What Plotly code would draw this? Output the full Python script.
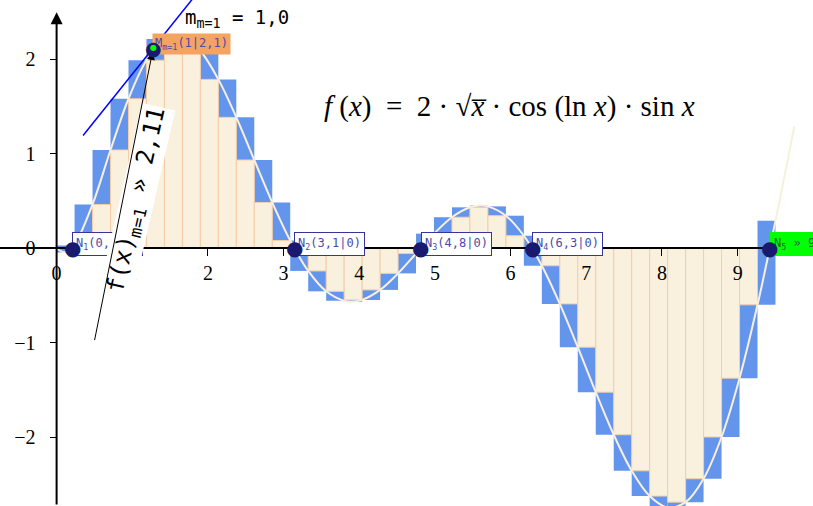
import plotly.graph_objects as go

# f(x) = 2*sqrt(x)*cos(ln x)*sin x
curve_x = [0, 0.1, 0.2079, 0.2375, 0.475, 0.7125, 0.95, 1.1875, 1.425, 1.575,
           1.6625, 1.9, 2.1375, 2.375, 2.6125, 2.85, 3.0875, 3.325, 3.5625, 3.8,
           3.9, 4.0375, 4.275, 4.5125, 4.75, 4.9875, 5.225, 5.4625, 5.6, 5.7,
           5.9375, 6.175, 6.4125, 6.65, 6.8875, 7.125, 7.3625, 7.6, 7.8375, 8.075,
           8.3125, 8.55, 8.7875, 9.025, 9.2625, 9.5, 9.75]
curve_y = [0, -0.042, 0, 0.030, 0.464, 1.041, 1.584, 1.992, 2.216, 2.255,
           2.243, 2.090, 1.789, 1.387, 0.935, 0.485, 0.082, -0.240, -0.456, -0.557,
           -0.566, -0.547, -0.441, -0.266, -0.055, 0.155, 0.329, 0.434, 0.452, 0.444,
           0.345, 0.133, -0.185, -0.589, -1.048, -1.524, -1.975, -2.357, -2.625, -2.745,
           -2.689, -2.441, -1.999, -1.376, -0.599, 0.291, 1.295]

# 40 strips on [0, 9.5]
strip_left = [0, 0.2375, 0.475, 0.7125, 0.95, 1.1875, 1.425, 1.6625, 1.9, 2.1375,
              2.375, 2.6125, 2.85, 3.0875, 3.325, 3.5625, 3.8, 4.0375, 4.275, 4.5125,
              4.75, 4.9875, 5.225, 5.4625, 5.7, 5.9375, 6.175, 6.4125, 6.65, 6.8875,
              7.125, 7.3625, 7.6, 7.8375, 8.075, 8.3125, 8.55, 8.7875, 9.025, 9.2625]
strip_width = 0.2375
upper_sum = [0.030, 0.464, 1.041, 1.584, 1.992, 2.216, 2.256, 2.243, 2.090, 1.789,
             1.387, 0.935, 0.485, 0.082, -0.240, -0.456, -0.547, -0.441, -0.266, -0.055,
             0.155, 0.329, 0.434, 0.453, 0.444, 0.345, 0.133, -0.185, -0.589, -1.048,
             -1.524, -1.975, -2.357, -2.625, -2.689, -2.441, -1.999, -1.376, -0.599, 0.291]
lower_sum = [-0.044, 0.030, 0.464, 1.041, 1.584, 1.992, 2.216, 2.090, 1.789, 1.387,
             0.935, 0.485, 0.082, -0.240, -0.456, -0.557, -0.566, -0.547, -0.441, -0.266,
             -0.055, 0.155, 0.329, 0.434, 0.345, 0.133, -0.185, -0.589, -1.048, -1.524,
             -1.975, -2.357, -2.625, -2.745, -2.749, -2.689, -2.441, -1.999, -1.376, -0.599]

# roots
zeros_x = [0.208, 3.142, 4.811, 6.283, 9.425]
zeros_label = ["N<sub>1</sub>(0,2|0)", "N<sub>2</sub>(3,1|0)", "N<sub>3</sub>(4,8|0)",
               "N<sub>4</sub>(6,3|0)", "N<sub>5</sub> » 9,42|0)"]

# point with slope 1, its tangent and the pointer
m_x, m_y = 1.278, 2.123
tangent_x = [0.35, 1.95]
tangent_y = [1.195, 2.795]
pointer_x, pointer_y = 0.498, -0.989

x_ticks = [0, 1, 2, 3, 4, 5, 6, 7, 8, 9]
y_ticks = [-2, -1, 0, 1, 2]

BLUE = '#6495ED'
BEIGE = '#FAF0DE'
NAVY = '#191970'
LABEL_TXT = '#4A4AA8'
MONO = 'DejaVu Sans Mono'
SERIF = 'Liberation Serif'

# strips: blue covers the full range of f (and 0), beige the part under both
blue_base = [min(lo, 0) for lo in lower_sum]
blue_height = [max(up, 0) - b for up, b in zip(upper_sum, blue_base)]
beige_height = [lo if lo > 0 else (up if up < 0 else 0)
                for up, lo in zip(upper_sum, lower_sum)]

fig = go.Figure()

fig.add_trace(go.Bar(
    x=strip_left, y=blue_height, base=blue_base, width=strip_width, offset=0,
    marker=dict(color=BLUE, line=dict(width=0)),
))
fig.add_trace(go.Bar(
    x=strip_left, y=beige_height, width=strip_width, offset=0,
    marker=dict(color=BEIGE, line=dict(color='#F6CDA6', width=1)),
))

fig.add_trace(go.Scatter(
    x=curve_x, y=curve_y, mode='lines',
    line=dict(color='#F8F0DD', width=2, shape='spline'),
))

fig.add_trace(go.Scatter(
    x=tangent_x, y=tangent_y, mode='lines',
    line=dict(color='#0000FF', width=1.5),
))

annotations = []

# formula
annotations.append(dict(
    x=5.99, y=1.50, xref='x', yref='y', showarrow=False,
    text=("<i>f</i> (<i>x</i>)  =  2 · √<i>x\u0305</i> · cos (ln <i>x</i>) · sin <i>x</i>"),
    font=dict(family=SERIF, size=29, color='black'),
))

# slope text
annotations.append(dict(
    x=1.67, y=2.43, xref='x', yref='y', xanchor='left', showarrow=False,
    text="m<sub>m=1</sub> = 1,0",
    font=dict(family=MONO, size=19, color='black'),
))

# root labels
for i, (zx, lbl) in enumerate(zip(zeros_x, zeros_label)):
    last = i == len(zeros_x) - 1
    annotations.append(dict(
        x=zx, y=0, xref='x', yref='y', xanchor='left', yanchor='middle',
        yshift=4, showarrow=False, text=lbl,
        font=dict(family=MONO, size=12, color='#1F5F3F' if last else LABEL_TXT),
        bgcolor='#00FF00' if last else 'white',
        bordercolor='#00FF00' if last else '#36369A', borderwidth=1, borderpad=3,
    ))

# label of M
annotations.append(dict(
    x=m_x, y=m_y, xref='x', yref='y', xanchor='left', yanchor='middle',
    yshift=4, xshift=-1, showarrow=False,
    text="M<sub>m=1</sub>(1|2,1)",
    font=dict(family=MONO, size=12, color=LABEL_TXT),
    bgcolor='#F4A460', borderpad=2,
))

# rotated function value label
annotations.append(dict(
    x=1.065, y=0.505, xref='x', yref='y', showarrow=False, textangle=-77,
    text="f(x)<sub>m=1</sub> » 2,11",
    font=dict(family=MONO, size=24, color='black'),
    bgcolor='white', borderpad=1,
))

# pointer arrow to M
annotations.append(dict(
    x=m_x, y=m_y, ax=pointer_x, ay=pointer_y, xref='x', yref='y',
    axref='x', ayref='y', text='', showarrow=True, arrowhead=2,
    arrowsize=1.6, arrowwidth=1, arrowcolor='black', standoff=4,
))

# y axis with arrow head
annotations.append(dict(
    x=0, y=2.50, ax=0, ay=-2.73, xref='x', yref='y', axref='x', ayref='y',
    text='', showarrow=True, arrowhead=2, arrowsize=1.2, arrowwidth=2,
    arrowcolor='black',
))

# points drawn last so they sit on top of their labels
for zx in zeros_x:
    annotations.append(dict(
        x=zx, y=0, xref='x', yref='y', showarrow=False, text='●',
        font=dict(family='DejaVu Sans', size=20, color=NAVY),
    ))
annotations.append(dict(
    x=m_x, y=m_y, xref='x', yref='y', showarrow=False, text='●',
    font=dict(family='DejaVu Sans', size=19, color=NAVY),
))
annotations.append(dict(
    x=m_x, y=m_y, xref='x', yref='y', showarrow=False, text='●',
    font=dict(family='DejaVu Sans', size=8, color='#00FF00'),
))

tick_font = dict(family=SERIF, size=20, color='black')

fig.update_layout(
    width=813, height=506,
    margin=dict(l=0, r=0, t=0, b=0),
    paper_bgcolor='white', plot_bgcolor='white',
    showlegend=False, barmode='overlay',
    xaxis=dict(
        range=[-0.748, 9.996], anchor='free', position=0.5093,
        showline=True, linecolor='black', linewidth=2,
        ticks='outside', ticklen=7, tickwidth=1, tickcolor='black',
        tickvals=x_ticks, showgrid=False, zeroline=False,
        tickfont=tick_font, ticklabelstandoff=0,
    ),
    yaxis=dict(
        range=[-2.730, 2.630], anchor='free', position=0.0696,
        showline=False, ticks='outside', ticklen=7, tickwidth=1, tickcolor='black',
        tickvals=y_ticks, showgrid=False, zeroline=False,
        tickfont=tick_font, ticklabelstandoff=10,
    ),
    annotations=annotations,
)

# the page body has a default margin; drop it so the figure fills the window
fig.write_html(
    "out.html",
    config={'displayModeBar': False},
    post_script="document.body.style.margin = '0';",
)
